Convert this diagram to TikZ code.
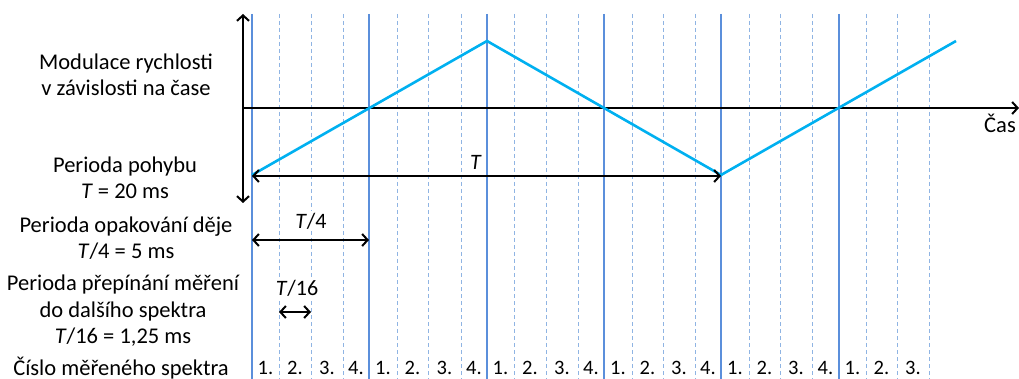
\documentclass[tikz,border=0pt]{standalone}
\usepackage{fontspec}
\setmainfont{Carlito}
\usetikzlibrary{arrows.meta}
\definecolor{vsolid}{HTML}{5B8FDB}
\definecolor{vdash}{HTML}{8FB4E3}
\definecolor{tri}{HTML}{00B0F0}
\begin{document}
\begin{tikzpicture}[x=1pt,y=-1pt,
  barb/.tip={Straight Barb[length=5.5pt,width=12pt,line width=2pt]},
  axis/.style={line width=2.2pt,black},
  dim/.style={line width=2pt,black,barb-barb},
  solidv/.style={line width=2.6pt,vsolid},
  dashv/.style={line width=1pt,vdash,dash pattern=on 4pt off 3pt},
  lbl/.style={font=\fontsize{22.5}{26.5}\selectfont,align=center,inner sep=0pt},
  dimlbl/.style={font=\fontsize{22}{24}\selectfont,inner sep=2pt,fill=white},
  num/.style={font=\fontsize{20.5}{24}\selectfont,inner sep=0pt}]
\useasboundingbox (0,0) rectangle (1019,379);
% vertical grid lines
\foreach \x in {279,311,343,397,428,461,514,546,578,632,663,695,749,780,812,866,897,929}
  \draw[dashv] (\x,14) -- (\x,379);
% labels with white fill (drawn over dashed lines)
\coordinate (t4a) at (252,240);
\coordinate (t4b) at (369,240);
\coordinate (t16a) at (279,312);
\coordinate (t16b) at (311,312);
\node[dimlbl] (lt4) at (311,221) {\textit{T}/4};
\node[dimlbl] (lt16) at (297,288) {\textit{T}/16};
\foreach \x in {252,369,487,604,721,839}
  \draw[solidv] (\x,14) -- (\x,379);
% axes
\coordinate (vtop) at (243,14);
\coordinate (vbot) at (243,203);
\coordinate (hleft) at (243,108);
\coordinate (hright) at (1019,108);
\draw[axis,barb-barb] (vbot) -- (vtop);
\draw[axis,-barb] (hleft) -- (hright);
\node[lbl,anchor=north east] (cas) at (1016,114) {Čas};
% triangle wave
\coordinate (p0) at (252,175);
\coordinate (p1) at (487,41);
\coordinate (p2) at (721,175);
\coordinate (p3) at (956,41);
\draw[tri,line width=2.6pt,line join=miter] (p0) -- (p1) -- (p2) -- (p3);
% dimension arrows
\coordinate (ta) at (252,176);
\coordinate (tb) at (721,176);
\draw[dim] (ta) -- (tb);
\node[dimlbl,fill=none] (lt) at (476,162) {\textit{T}};
\draw[dim] (t4a) -- (t4b);
\draw[dim] (t16a) -- (t16b);
% left labels
\node[lbl] (mod) at (126,75) {Modulace rychlosti\\v závislosti na čase};
\node[lbl] (poh) at (125,178) {Perioda pohybu\\\textit{T} = 20 ms};
\node[lbl] (opa) at (126,238) {Perioda opakování děje\\\textit{T}/4 = 5 ms};
\node[lbl] (pre) at (123,311) {Perioda přepínání měření\\do dalšího spektra\\\textit{T}/16 = 1,25 ms};
\node[lbl] (cis) at (121,368) {Číslo měřeného spektra};
% spectrum numbers
\foreach \c/\n [count=\i] in {265.5/1,295/2,327/3,356/4,383/1,412.5/2,444.5/3,474/4,500.5/1,530/2,562/3,591/4,618/1,647.5/2,679/3,708/4,735/1,764.5/2,796/3,825.5/4,852.5/1,881.5/2,913/3}
  \node[num] (n\i) at (\c,368) {\n.};
\end{tikzpicture}
\end{document}
